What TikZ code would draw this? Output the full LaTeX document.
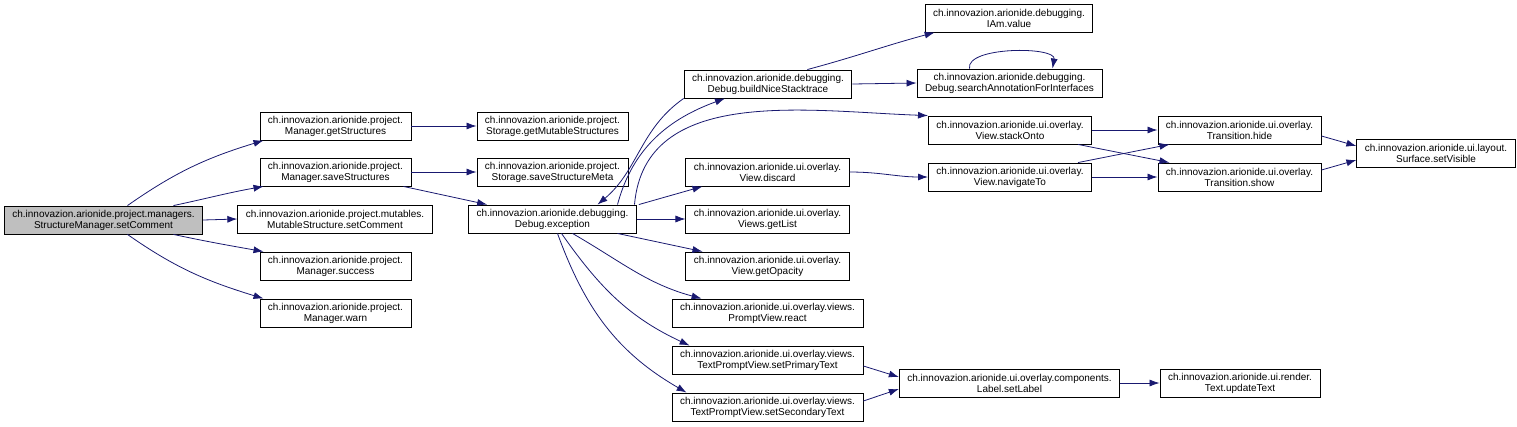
\documentclass[tikz,border=0pt]{standalone}
\usepackage{fontspec}
\setmainfont{Liberation Sans}
\usetikzlibrary{arrows.meta}
\definecolor{edgeblue}{HTML}{191970}
\definecolor{rootgray}{HTML}{BFBFBF}
\tikzset{
  fn/.style={
    draw=black,
    line width=0.9pt,
    fill=white,
    minimum height=28pt,
    inner xsep=8pt,
    inner ysep=1pt,
    font=\fontsize{10}{11}\selectfont,
    align=center
  },
  rootfn/.style={fn, fill=rootgray},
  call/.style={draw=edgeblue, line width=0.8pt, -{Latex[length=10pt,width=7pt]}},
}

\begin{document}
\begin{tikzpicture}[x=1pt,y=-1pt]
  \useasboundingbox (0,0) rectangle (1517,426);
  % column 0 / 1
  \node[rootfn] (root) at (103.5,220) {ch.innovazion.arionide.project.managers.\\StructureManager.setComment};
  \node[fn] (mgrGet) at (335.5,126) {ch.innovazion.arionide.project.\\Manager.getStructures};
  \node[fn] (mgrSave) at (335.5,172) {ch.innovazion.arionide.project.\\Manager.saveStructures};
  \node[fn] (mutSet) at (335,219) {ch.innovazion.arionide.project.mutables.\\MutableStructure.setComment};
  \node[fn] (mgrOk) at (335.5,266) {ch.innovazion.arionide.project.\\Manager.success};
  \node[fn] (mgrWarn) at (335.5,313) {ch.innovazion.arionide.project.\\Manager.warn};
  % column 2
  \node[fn] (stoGet) at (552.5,126) {ch.innovazion.arionide.project.\\Storage.getMutableStructures};
  \node[fn] (stoSave) at (552.5,172) {ch.innovazion.arionide.project.\\Storage.saveStructureMeta};
  \node[fn] (dbgExc) at (552.5,219) {ch.innovazion.arionide.debugging.\\Debug.exception};
  % column 3
  \node[fn] (dbgNice) at (768,84) {ch.innovazion.arionide.debugging.\\Debug.buildNiceStacktrace};
  \node[fn] (viewDiscard) at (767.5,172) {ch.innovazion.arionide.ui.overlay.\\View.discard};
  \node[fn] (viewsList) at (767.5,219) {ch.innovazion.arionide.ui.overlay.\\Views.getList};
  \node[fn] (viewOpac) at (767.5,266) {ch.innovazion.arionide.ui.overlay.\\View.getOpacity};
  \node[fn] (promptReact) at (767.5,313) {ch.innovazion.arionide.ui.overlay.views.\\PromptView.react};
  \node[fn] (txtPrimary) at (767.5,360) {ch.innovazion.arionide.ui.overlay.views.\\TextPromptView.setPrimaryText};
  \node[fn] (txtSecondary) at (767.5,407) {ch.innovazion.arionide.ui.overlay.views.\\TextPromptView.setSecondaryText};
  % column 4
  \node[fn] (iamVal) at (1009,18) {ch.innovazion.arionide.debugging.\\IAm.value};
  \node[fn] (dbgSearch) at (1009.5,83) {ch.innovazion.arionide.debugging.\\Debug.searchAnnotationForInterfaces};
  \node[fn] (viewStack) at (1010,130) {ch.innovazion.arionide.ui.overlay.\\View.stackOnto};
  \node[fn] (viewNav) at (1010,177) {ch.innovazion.arionide.ui.overlay.\\View.navigateTo};
  \node[fn] (lblSet) at (1009.5,383) {ch.innovazion.arionide.ui.overlay.components.\\Label.setLabel};
  % column 5 / 6
  \node[fn] (transHide) at (1239.5,130) {ch.innovazion.arionide.ui.overlay.\\Transition.hide};
  \node[fn] (transShow) at (1239.5,177) {ch.innovazion.arionide.ui.overlay.\\Transition.show};
  \node[fn] (rndText) at (1240,383) {ch.innovazion.arionide.ui.render.\\Text.updateText};
  \node[fn] (surfVis) at (1436,153) {ch.innovazion.arionide.ui.layout.\\Surface.setVisible};

  % calls from the root
  \draw[call] ([xshift=24pt]root.north) to[out=35,in=197] ([xshift=4pt]mgrGet.south west);
  \draw[call] ([xshift=70pt]root.north) to[out=12,in=190] ([xshift=4pt]mgrSave.south west);
  \draw[call] (root.east) -- (mutSet.west);
  \draw[call] ([xshift=70pt]root.south) to[out=-12,in=170] ([xshift=4pt]mgrOk.north west);
  \draw[call] ([xshift=24pt]root.south) to[out=-35,in=163] ([xshift=4pt]mgrWarn.north west);
  % manager -> storage / debug
  \draw[call] (mgrGet.east) -- (stoGet.west);
  \draw[call] (mgrSave.east) -- (stoSave.west);
  \draw[call] ([xshift=-8pt]mgrSave.south east) -- ([xshift=19pt]dbgExc.north west);
  % Debug.exception
  \draw[call] (dbgNice.south west) to[out=-145,in=40] ([xshift=45pt]dbgExc.north);
  \draw[call] ([xshift=65pt]dbgExc.north) to[out=75,in=200] ([xshift=-43pt]dbgNice.south);
  \draw[call] ([xshift=82pt]dbgExc.north) to[out=85,in=178] (viewStack.north west);
  \draw[call] ([xshift=2pt]dbgExc.north east) -- ([xshift=17pt]viewDiscard.south west);
  \draw[call] (dbgExc.east) -- (viewsList.west);
  \draw[call] ([xshift=65pt]dbgExc.south) -- ([xshift=17pt]viewOpac.north west);
  \draw[call] ([xshift=20pt]dbgExc.south) to[out=-30,in=165] ([xshift=30pt]promptReact.north west);
  \draw[call] ([xshift=9pt]dbgExc.south) to[out=-55,in=155] ([xshift=18pt]txtPrimary.north west);
  \draw[call] ([xshift=5pt]dbgExc.south) to[out=-70,in=150] ([xshift=15pt]txtSecondary.north west);
  % stack trace
  \draw[call] ([xshift=-45pt]dbgNice.north east) to[out=15,in=195] ([xshift=10pt]iamVal.south west);
  \draw[call] (dbgNice.east) -- (dbgSearch.west);
  \draw[call] ([xshift=-40pt]dbgSearch.north) to[out=100,in=80,looseness=0.7] ([xshift=43pt]dbgSearch.north);
  % views
  \draw[call] (viewDiscard.east) to[out=0,in=180] (viewNav.west);
  \draw[call] (viewStack.east) -- (transHide.west);
  \draw[call] ([xshift=-14pt]viewStack.south east) -- ([xshift=12pt]transShow.north west);
  \draw[call] ([xshift=-14pt]viewNav.north east) -- ([xshift=12pt]transHide.south west);
  \draw[call] (viewNav.east) -- (transShow.west);
  \draw[call] ([yshift=-6pt]transHide.east) -- ([yshift=7pt]surfVis.west);
  \draw[call] ([yshift=7pt]transShow.east) -- ([yshift=-7pt]surfVis.west);
  % labels
  \draw[call] ([yshift=-6pt]txtPrimary.east) -- ([yshift=6pt]lblSet.west);
  \draw[call] ([yshift=6pt]txtSecondary.east) -- ([yshift=-6pt]lblSet.west);
  \draw[call] (lblSet.east) -- (rndText.west);
\end{tikzpicture}
\end{document}
